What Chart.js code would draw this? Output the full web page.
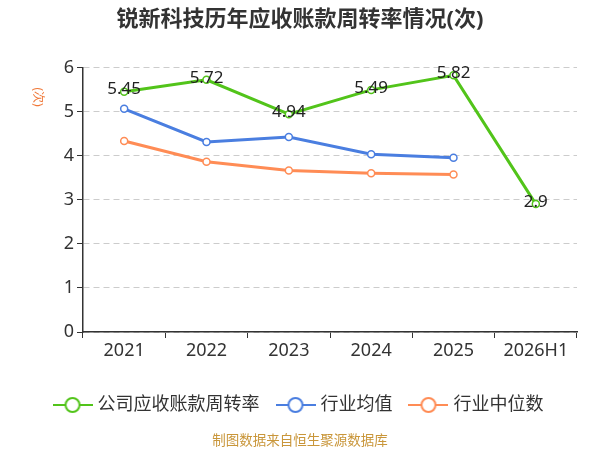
<!DOCTYPE html>
<html>
<head>
<meta charset="utf-8">
<script src="https://cdn.jsdelivr.net/npm/chart.js@4.4.1/dist/chart.umd.min.js"></script>
<style>
html,body{margin:0;padding:0;background:#fff;}
#wrap{width:600px;height:450px;position:relative;}
</style>
</head>
<body>
<div id="wrap"><canvas id="c"></canvas></div>
<script>
const categories = ['2021','2022','2023','2024','2025','2026H1'];
const companyRate = [5.45, 5.72, 4.94, 5.49, 5.82, 2.9];
const industryAvg = [5.06, 4.31, 4.42, 4.03, 3.95, null];
const industryMedian = [4.33, 3.86, 3.66, 3.60, 3.57, null];
const yTicks = [0,1,2,3,4,5,6];

const FONT = '"Noto Sans", "Noto Sans CJK SC", sans-serif';
const GREEN = '#52c41a';
const BLUE = '#4a7ee0';
const ORANGE = '#ff8c55';
const COLORS = [GREEN, BLUE, ORANGE];

function legendIcon(color){
  const cv = document.createElement('canvas');
  cv.width = 40; cv.height = 18;
  const g = cv.getContext('2d');
  g.strokeStyle = color; g.lineWidth = 2;
  g.beginPath(); g.moveTo(0,9); g.lineTo(40,9); g.stroke();
  g.fillStyle = '#fff';
  g.beginPath(); g.arc(20,9,7,0,Math.PI*2); g.fill(); g.stroke();
  return cv;
}
const ICONS = COLORS.map(legendIcon);

const extras = {
  id:'extras',
  afterDatasetsDraw(chart){
    const ctx = chart.ctx;
    const meta = chart.getDatasetMeta(0);
    ctx.save();
    ctx.font = '17px ' + FONT;
    ctx.fillStyle = '#222';
    ctx.textAlign = 'center';
    ctx.textBaseline = 'middle';
    meta.data.forEach((p,i)=>{
      const v = companyRate[i];
      if (v == null) return;
      ctx.fillText(String(v), p.x, p.y - 2);
    });
    ctx.restore();
  },
  afterDraw(chart){
    const ctx = chart.ctx;
    ctx.save();
    ctx.font = '13.5px ' + FONT;
    ctx.fillStyle = '#c9963a';
    ctx.textAlign = 'center';
    ctx.textBaseline = 'middle';
    ctx.fillText('制图数据来自恒生聚源数据库', 300, 441);
    ctx.translate(37, 97);
    ctx.rotate(Math.PI/2);
    ctx.font = '12px ' + FONT;
    ctx.fillStyle = '#f07838';
    ctx.fillText('(次)', 0, 0);
    ctx.restore();
  }
};

function ds(label, data, color){
  return {label, data, borderColor: color, backgroundColor:'#fff',
    borderWidth:3, pointRadius:3.5, pointBorderWidth:1.5, pointBackgroundColor:'#fff', pointBorderColor: color,
    pointStyle:'circle', tension:0};
}

new Chart(document.getElementById('c'), {
  type:'line',
  data:{
    labels: categories,
    datasets:[
      ds('公司应收账款周转率', companyRate, GREEN),
      ds('行业均值', industryAvg, BLUE),
      ds('行业中位数', industryMedian, ORANGE)
    ]
  },
  options:{
    responsive:true, maintainAspectRatio:false, animation:false,
    layout:{padding:{left:0,right:0,top:0,bottom:26}},
    plugins:{
      title:{display:true, text:'锐新科技历年应收账款周转率情况(次)', color:'#333',
        font:{family:FONT, size:22, weight:'bold'}, padding:{top:7,bottom:34}},
      legend:{position:'bottom', labels:{usePointStyle:true, pointStyleWidth:32, boxHeight:18,
        font:{family:FONT,size:18}, color:'#333', padding:20,
        generateLabels(chart){
          const items = Chart.defaults.plugins.legend.labels.generateLabels(chart);
          items.forEach((it,i)=>{ it.pointStyle = ICONS[i]; });
          return items;
        }}},
      tooltip:{enabled:false}
    },
    scales:{
      x:{
        offset:true,
        grid:{display:true, drawOnChartArea:false, drawTicks:true, tickLength:6, tickColor:'#333', offset:true},
        border:{display:true, color:'#333', width:1.5},
        ticks:{font:{family:FONT,size:18}, color:'#333', padding:2},
        afterFit(s){ s.height = 44; }
      },
      y:{
        min:0, max:6,
        afterBuildTicks(s){ s.ticks = yTicks.map(v=>({value:v})); },
        grid:{color:'#cccccc', tickLength:6, tickColor:'#333', tickBorderDash:[0,0], drawTicks:true},
        border:{display:true, color:'#333', width:1.5, dash:[6,4]},
        ticks:{font:{family:FONT,size:18}, color:'#333', padding:3},
        afterFit(s){ s.width = 83; }
      },
      yRight:{
        position:'right', display:true, min:0, max:6,
        grid:{display:false, drawOnChartArea:false, drawTicks:false},
        border:{display:false},
        ticks:{display:false},
        afterFit(s){ s.width = 23; }
      }
    }
  },
  plugins:[extras]
});
</script>
</body>
</html>
